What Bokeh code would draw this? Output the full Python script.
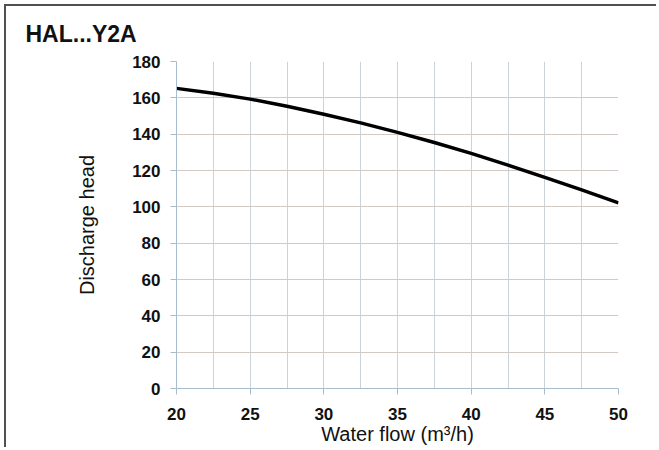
from bokeh.plotting import figure
from bokeh.models import Range1d, FixedTicker
from bokeh.embed import file_html
from bokeh.resources import INLINE

# ---- data ----
flow = [20, 22.5, 25, 27.5, 30, 32.5, 35, 37.5, 40, 42.5, 45, 47.5, 50]
head = [165.2, 162.5, 159.3, 155.4, 151.0, 146.2, 141.0, 135.4, 129.4, 123.0, 116.2, 109.3, 102.2]

x_ticks = [20, 25, 30, 35, 40, 45, 50]
x_minor = [22.5, 27.5, 32.5, 37.5, 42.5, 47.5]
y_ticks = [0, 20, 40, 60, 80, 100, 120, 140, 160, 180]

title_text = "HAL...Y2A"
x_label = "Water flow (m³/h)"
y_label = "Discharge head"

FONT = "Liberation Sans"

p = figure(width=652, height=443,
           x_range=Range1d(x_ticks[0], x_ticks[-1]),
           y_range=Range1d(y_ticks[0], y_ticks[-1]),
           output_backend="svg", toolbar_location=None,
           min_border_left=170, min_border_right=40,
           min_border_top=55, min_border_bottom=61)

p.styles = {"margin-left": "4px", "margin-top": "4px",
            "border-left": "2px solid #505050", "border-top": "2px solid #505050"}

p.title.text = title_text
p.title.text_font = FONT
p.title.text_font_size = "23px"
p.title.text_font_style = "bold"
p.title.text_color = "#111111"
p.title.align = "left"
p.title.vertical_align = "top"
p.title.offset = -151
p.title.standoff = 26

p.outline_line_color = None
p.background_fill_color = "white"
p.border_fill_color = "white"

p.xaxis.ticker = FixedTicker(ticks=x_ticks, minor_ticks=x_minor)
p.yaxis.ticker = FixedTicker(ticks=y_ticks)

axis_col = "#a9bccb"
for ax in (p.xaxis[0], p.yaxis[0]):
    ax.axis_line_color = axis_col
    ax.major_tick_line_color = axis_col
    ax.major_tick_out = 6
    ax.major_tick_in = 0
    ax.minor_tick_line_color = None
    ax.major_label_text_font = FONT
    ax.major_label_text_font_size = "17px"
    ax.major_label_text_font_style = "bold"
    ax.major_label_text_color = "#111111"
    ax.axis_label_text_font = FONT
    ax.axis_label_text_font_size = "20px"
    ax.axis_label_text_font_style = "normal"
    ax.axis_label_text_color = "#111111"

p.xaxis.axis_label = x_label
p.yaxis.axis_label = y_label
p.xaxis.major_label_standoff = 13
p.xaxis.axis_label_standoff = 0
p.yaxis.major_label_standoff = 10
p.yaxis.axis_label_standoff = 31

p.xgrid.grid_line_color = "#c9d3da"
p.xgrid.minor_grid_line_color = "#c9d3da"
p.ygrid.grid_line_color = "#d3c9c5"

p.line(flow, head, line_color="black", line_width=3.5)

open("out.html", "w").write(file_html(p, INLINE))
